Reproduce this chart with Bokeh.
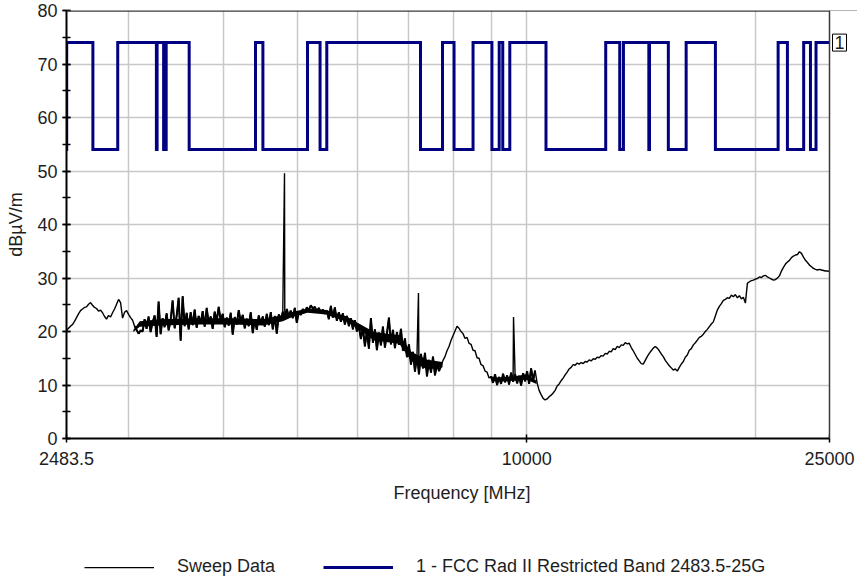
import numpy as np
from bokeh.plotting import figure
from bokeh.layouts import column
from bokeh.models import (Range1d, FixedTicker, SingleIntervalTicker,
                          CustomJSTickFormatter, Legend, LegendItem, Label,
                          Span, BoxAnnotation)
from bokeh.embed import file_html
from bokeh.resources import INLINE

# Sweep: log-spaced points from start to stop frequency, levels in dBuV/m
sweep_start_mhz = 2483.5
sweep_stop_mhz = 25000.0
sweep_level = [
    20.2, 20.6, 21.0, 21.3, 21.9, 22.6, 23.3, 23.9, 24.2, 24.5,
    24.6, 25.1, 25.4, 24.9, 24.5, 24.3, 23.8, 24.0, 23.5, 22.8,
    22.3, 23.0, 22.7, 23.5, 24.2, 25.1, 26.0, 25.4, 22.5, 23.6,
    23.9, 23.2, 22.6, 22.1, 21.0, 20.3, 19.6, 20.2, 20.0, 22.3,
    20.5, 22.8, 19.9, 21.7, 23.0, 19.0, 25.6, 19.5, 22.5, 20.8,
    23.4, 20.2, 22.1, 25.8, 20.6, 22.9, 26.3, 18.3, 26.6, 21.0,
    23.5, 20.4, 23.6, 21.2, 24.1, 20.7, 22.9, 21.5, 23.8, 20.9,
    24.4, 21.6, 22.8, 20.5, 23.7, 21.9, 24.6, 22.0, 23.3, 20.8,
    22.6, 21.1, 23.5, 19.4, 22.7, 21.3, 24.0, 21.8, 23.1, 20.6,
    22.4, 21.0, 23.6, 19.7, 22.2, 20.3, 23.0, 21.4, 22.8, 20.9,
    23.3, 21.2, 23.6, 20.4, 22.9, 19.6, 23.2, 22.0, 23.7, 22.4,
    24.2, 22.8, 23.9, 22.5, 24.4, 21.6, 23.7, 23.1, 24.2, 23.6,
    24.5, 24.0, 24.9, 24.3, 24.6, 23.8, 24.4, 23.5, 24.1, 23.3,
    23.9, 22.3, 24.8, 22.6, 24.5, 22.0, 23.6, 21.8, 23.4, 21.3,
    22.9, 21.0, 22.5, 20.4, 22.1, 20.0, 21.0, 18.6, 20.7, 17.2,
    20.1, 16.8, 22.5, 17.9, 20.4, 16.5, 19.8, 17.4, 20.9, 17.0,
    19.6, 22.6, 17.6, 20.3, 16.9, 19.9, 17.5, 20.5, 16.4, 18.7,
    15.2, 17.6, 13.8, 16.2, 12.5, 15.4, 12.0, 15.8, 13.1, 16.0,
    11.6, 14.7, 12.3, 15.3, 11.8, 13.9, 12.6, 13.5, 14.6, 15.3,
    16.4, 17.2, 18.3, 19.2, 20.1, 21.0, 20.6, 20.0, 19.6, 18.7,
    18.9, 17.8, 17.6, 16.5, 16.4, 15.1, 15.0, 13.8, 13.6, 12.6,
    12.4, 11.3, 11.6, 10.4, 12.0, 10.0, 11.5, 10.2, 12.1, 10.5,
    11.8, 10.1, 12.3, 10.6, 12.0, 10.3, 11.7, 9.9, 12.2, 10.7,
    12.6, 10.2, 13.1, 10.8, 12.7, 10.4, 9.0, 8.2, 7.5, 7.2,
    7.4, 7.8, 8.1, 8.5, 9.0, 9.8, 10.2, 10.8, 11.3, 11.9,
    12.4, 13.0, 13.3, 13.8, 13.7, 14.1, 13.9, 14.2, 14.0, 14.4,
    14.3, 14.7, 14.5, 14.9, 14.8, 15.2, 15.1, 15.5, 15.4, 15.9,
    15.8, 16.3, 16.2, 16.8, 16.6, 17.2, 17.0, 17.5, 17.4, 17.9,
    17.7, 17.8, 17.0, 16.4, 15.7, 15.0, 14.5, 14.0, 13.9, 14.6,
    15.3, 15.9, 16.4, 16.9, 17.2, 16.9, 16.4, 15.8, 15.3, 14.6,
    14.1, 13.6, 13.2, 12.8, 13.0, 12.6, 13.3, 13.9, 14.4, 15.2,
    15.6, 16.5, 16.8, 17.5, 17.9, 18.4, 18.9, 19.1, 19.5, 20.0,
    20.4, 20.9, 21.4, 21.8, 22.9, 24.0, 24.7, 25.2, 25.8, 26.0,
    26.3, 26.2, 26.8, 26.5, 26.9, 26.3, 26.7, 26.1, 26.4, 25.3,
    29.0, 29.3, 29.5, 29.6, 29.8, 29.9, 30.2, 30.1, 30.4, 30.5,
    30.2, 30.0, 29.8, 29.6, 29.7, 30.0, 30.4, 31.3, 32.0, 32.6,
    33.0, 33.3, 33.8, 34.1, 34.3, 34.4, 34.9, 34.6, 33.9, 33.3,
    32.9, 32.4, 32.1, 31.8, 31.6, 31.5, 31.6, 31.5, 31.4, 31.3,
    31.3, 31.2,
]

# Narrow harmonic peaks captured by the sweep
spike_freq_mhz = [4804.0, 7206.0, 9608.0]
spike_level = [49.6, 27.2, 22.7]

# Spans where the noise floor is busy enough to merge into a dark band
busy_spans_mhz = [(3040.0, 7750.0), (8950.0, 10300.0)]

# Dense core of the noise floor where the trace is too busy to resolve
core_a_freq_mhz = [3040, 3100, 3300, 3700, 4100, 4500, 4780, 4900, 5150,
                   5450, 5800, 6000, 6300, 6800, 7050, 7400, 7750]
core_a_low = [19.9, 20.9, 21.1, 21.3, 21.3, 21.1, 21.9, 22.6, 23.5,
              23.2, 21.8, 20.5, 18.3, 17.7, 14.5, 12.9, 13.3]
core_a_high = [20.3, 21.9, 22.3, 22.5, 22.5, 22.3, 23.1, 23.6, 24.3,
               24.0, 22.8, 21.6, 19.9, 19.3, 16.2, 14.7, 14.3]
core_b_freq_mhz = [8950, 9100, 9600, 10000, 10300]
core_b_low = [11.3, 10.6, 10.8, 11.0, 10.2]
core_b_high = [11.7, 11.4, 11.6, 12.0, 10.8]

# Limit line: peak level outside restricted bands, average level inside
limit_peak = 74.0
limit_avg = 54.0
restricted_bands_mhz = [
    (2483.5, 2485.0), (2690.0, 2900.0), (3260.0, 3267.0), (3332.0, 3339.0),
    (3345.8, 3358.0), (3600.0, 4400.0), (4500.0, 5150.0), (5350.0, 5460.0),
    (7250.0, 7750.0), (8025.0, 8500.0), (9000.0, 9200.0), (9300.0, 9500.0),
    (10600.0, 12700.0), (13250.0, 13400.0), (14470.0, 14500.0),
    (15350.0, 16200.0), (17700.0, 21400.0), (22010.0, 23120.0),
    (23600.0, 24000.0),
]

x_tick_values = [2483.5, 10000.0, 25000.0]
x_grid_values = [3000, 4000, 5000, 6000, 7000, 8000, 9000, 10000, 20000]

FONT = "Liberation Sans"
TEXT = "#1e1e1e"
NAVY = "#000080"
GRID = "#c8c8c8"
EDGE = "#3a3a3a"

W, H_MAIN, H_LEG = 857, 530, 51
LEFT, TOP, BOTTOM = 66, 10, 92
DATA_W = 763          # pixels between start and stop frequency

# sweep trace, with the narrow peaks merged in frequency order
sweep_freq = np.geomspace(sweep_start_mhz, sweep_stop_mhz, len(sweep_level))
sweep_arr = np.array(sweep_level)
f_all = np.concatenate([sweep_freq, np.array(spike_freq_mhz)])
l_all = np.concatenate([sweep_arr, np.array(spike_level)])
order = np.argsort(f_all)
f_all, l_all = f_all[order], l_all[order]

# stepped limit line
lim_f, lim_l = [], []
for a, b in restricted_bands_mhz:
    if a > sweep_start_mhz:
        lim_f.append(a); lim_l.append(limit_peak)
    lim_f += [a, b, b]
    lim_l += [limit_avg, limit_avg, limit_peak]
lim_f.append(sweep_stop_mhz); lim_l.append(limit_peak)

# the frame runs to the right edge so the limit marker is not clipped;
# the x range is stretched so the stop frequency lands DATA_W px from the left
lg0, lg1 = np.log10(sweep_start_mhz), np.log10(sweep_stop_mhz)
x_end = 10 ** (lg0 + (lg1 - lg0) * (W - LEFT) / DATA_W)

p = figure(width=W, height=H_MAIN, x_axis_type="log",
           x_range=Range1d(sweep_start_mhz, x_end),
           y_range=Range1d(0, 80),
           output_backend="svg", toolbar_location=None,
           min_border_left=LEFT, min_border_right=0,
           min_border_top=TOP, min_border_bottom=BOTTOM)
p.background_fill_color = "white"
p.border_fill_color = "white"
p.outline_line_color = None

p.varea(x=core_a_freq_mhz, y1=core_a_low, y2=core_a_high, fill_color="black")
p.varea(x=core_b_freq_mhz, y1=core_b_low, y2=core_b_high, fill_color="black")
# heavier stroke over the busy stretches of the noise floor
for lo, hi in busy_spans_mhz:
    m = (sweep_freq >= lo) & (sweep_freq <= hi)
    p.line(sweep_freq[m], sweep_arr[m], line_color="black", line_width=2.0)
r_sweep = p.line(f_all, l_all, line_color="black", line_width=1.4)
r_limit = p.line(lim_f, lim_l, line_color=NAVY, line_width=3,
                 line_join="miter")

# grid
p.xgrid.ticker = FixedTicker(ticks=x_grid_values)
p.xgrid.grid_line_color = GRID
p.xgrid.grid_line_width = 1.5
p.ygrid.grid_line_color = GRID
p.ygrid.grid_line_width = 1.5

# x axis
xa = p.xaxis[0]
xa.ticker = FixedTicker(ticks=x_tick_values, minor_ticks=[])
xa.formatter = CustomJSTickFormatter(code="return String(tick);")
xa.axis_label = "Frequency [MHz]"
xa.bounds = (sweep_start_mhz, sweep_stop_mhz)

# y axis
ya = p.yaxis[0]
ya.ticker = SingleIntervalTicker(interval=10, num_minor_ticks=2)
ya.axis_label = "dB\u00b5V/m"

for ax in (xa, ya):
    ax.axis_line_color = "black"
    ax.axis_line_width = 2
    ax.major_tick_line_color = "black"
    ax.minor_tick_line_color = "black"
    ax.major_tick_line_width = 1.5
    ax.minor_tick_line_width = 1.5
    ax.major_tick_out = 4
    ax.major_tick_in = 4
    ax.minor_tick_out = 4
    ax.minor_tick_in = 4
    ax.major_label_text_font = FONT
    ax.major_label_text_font_size = "18px"
    ax.major_label_text_color = TEXT
    ax.axis_label_text_font = FONT
    ax.axis_label_text_font_size = "18px"
    ax.axis_label_text_font_style = "normal"
    ax.axis_label_text_color = TEXT

xa.major_label_standoff = 9
xa.axis_label_standoff = 15
ya.major_label_standoff = 5
ya.axis_label_standoff = 8

# plot border: top and right edges of the data area
p.add_layout(Span(location=80, dimension="width", line_color=EDGE, line_width=2.5))
p.add_layout(BoxAnnotation(left=sweep_stop_mhz, fill_color="white", fill_alpha=1,
                           line_color=None))
p.add_layout(Span(location=sweep_stop_mhz, dimension="height", line_color=EDGE,
                  line_width=1.5))

# limit-line marker at the right edge
p.add_layout(Label(x=sweep_stop_mhz, y=limit_peak, text="1", x_offset=3,
                   text_baseline="middle", text_align="left",
                   text_font=FONT, text_font_size="18px", text_color=TEXT,
                   border_line_color="black", border_line_width=1,
                   background_fill_color="white", padding=2))

# legend strip below the chart (its frame is aligned with the chart's frame)
pl = figure(width=W, height=H_LEG, x_range=Range1d(0, 1), y_range=Range1d(0, 1),
            output_backend="svg", toolbar_location=None,
            x_axis_location=None, y_axis_location=None, min_border=0)
pl.grid.visible = False
pl.outline_line_color = None
pl.background_fill_color = "white"
pl.border_fill_color = "white"
# key renderers sit outside the strip's visible range; only their legend keys show
k_sweep = pl.line([-2, -1], [-2, -1], line_color="black", line_width=1.25)
k_limit = pl.line([-2, -1], [-2, -1], line_color=NAVY, line_width=3)
legend = Legend(items=[
    LegendItem(label="Sweep Data", renderers=[k_sweep]),
    LegendItem(label="1 - FCC Rad II Restricted Band 2483.5-25G",
               renderers=[k_limit]),
], orientation="horizontal", location=(18, 4),
    border_line_color=None, background_fill_alpha=0,
    glyph_width=70, glyph_height=18, label_standoff=23, spacing=48,
    padding=0, margin=0,
    label_text_font=FONT, label_text_font_size="18px",
    label_text_color=TEXT)
pl.add_layout(legend)

layout = column(p, pl, spacing=0)
open("out.html", "w").write(file_html(layout, INLINE))
